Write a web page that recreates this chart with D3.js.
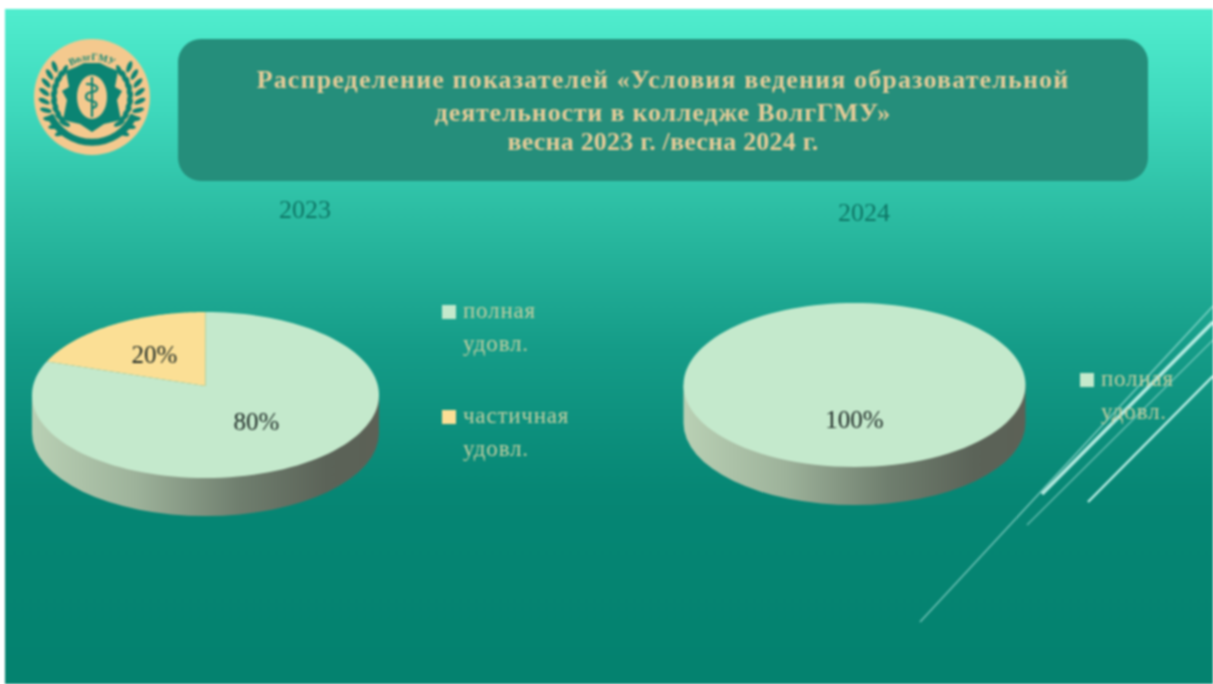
<!DOCTYPE html>
<html>
<head>
<meta charset="utf-8">
<script src="https://cdn.jsdelivr.net/npm/d3@7"></script>
<style>
  html, body { margin: 0; padding: 0; background: #fff; overflow: hidden; }
  svg { display: block; filter: blur(0.8px); }
  text { font-family: "Liberation Serif", serif; }
</style>
</head>
<body>
<div id="chart"></div>
<script>
// Data
const categories = ["полная удовл.", "частичная удовл."];
const values2023 = [80, 20];
const values2024 = [100];
const titleLines = [
    "Распределение показателей «Условия ведения образовательной",
    "деятельности в колледже ВолгГМУ»",
    "весна 2023 г. /весна 2024 г."
];

const width = 1213, height = 684;
const colors = d3.scaleOrdinal().domain(categories).range(["#C4E9CC", "#FBDF95"]);

const svg = d3.select("#chart").append("svg")
    .attr("width", width)
    .attr("height", height);

const defs = svg.append("defs");

// Slide background
const bg = defs.append("linearGradient").attr("id", "bg").attr("x2", 0).attr("y2", 1);
[[0, "#50EDCE"], [0.15, "#3ED8BC"], [0.3, "#2CBDA3"], [0.5, "#159C88"], [0.72, "#068674"], [1, "#04826F"]]
    .forEach(s => bg.append("stop").attr("offset", s[0]).attr("stop-color", s[1]));

// Side of the 3d pies
const side = defs.append("linearGradient").attr("id", "side");
[[0, "#B9D0B4"], [0.3, "#9DB29A"], [0.6, "#6F7E6E"], [0.85, "#5B6358"], [1, "#5C6156"]]
    .forEach(s => side.append("stop").attr("offset", s[0]).attr("stop-color", s[1]));

svg.append("rect")
    .attr("x", 5).attr("y", 9)
    .attr("width", width - 5).attr("height", height - 9)
    .attr("fill", "url(#bg)");

// Decorative diagonal lines
const decoLines = [
    { x1: 920, y1: 622, x2: 1213, y2: 306, w: 1.6, o: 0.55 },
    { x1: 1042, y1: 494, x2: 1213, y2: 322, w: 3.5, o: 0.9 },
    { x1: 1027, y1: 525, x2: 1213, y2: 340, w: 1.4, o: 0.5 },
    { x1: 1088, y1: 502, x2: 1213, y2: 376, w: 2.4, o: 0.95 }
];
svg.selectAll("line.deco")
    .data(decoLines)
    .enter()
    .append("line")
    .attr("class", "deco")
    .attr("x1", d => d.x1).attr("y1", d => d.y1)
    .attr("x2", d => d.x2).attr("y2", d => d.y2)
    .attr("stroke", "#C8F5EC")
    .attr("stroke-width", d => d.w)
    .attr("stroke-opacity", d => d.o);

// Title banner
svg.append("rect")
    .attr("x", 178).attr("y", 39)
    .attr("width", 970).attr("height", 142)
    .attr("rx", 23)
    .attr("fill", "#258E7B");

svg.selectAll("text.title")
    .data(titleLines)
    .enter()
    .append("text")
    .attr("class", "title")
    .attr("x", 663)
    .attr("y", (d, i) => [88, 121, 150][i])
    .style("text-anchor", "middle")
    .style("font-size", "26px")
    .style("letter-spacing", (d, i) => [1.15, 0.8, 0.2][i] + "px")
    .style("font-weight", "bold")
    .style("fill", "#E6CC98")
    .text(d => d);

// Logo
const logo = svg.append("g").attr("transform", "translate(92,97)");
const teal = "#0B8473";
logo.append("circle").attr("r", 58).attr("fill", "#F4C98E");
[-1, 1].forEach(function(sign) {
    [38, 48].forEach(function(r, row) {
        d3.range(9).forEach(function(i) {
            const deg = -44 + i * 11 + row * 5;
            const a = deg * Math.PI / 180;
            logo.append("ellipse")
                .attr("rx", 6).attr("ry", 2.4)
                .attr("transform", `translate(${sign * r * Math.cos(a)},${r * Math.sin(a)}) rotate(${sign * (deg - 70 + row * 40)})`)
                .attr("fill", teal);
        });
    });
});
logo.append("path")
    .attr("d", "M-42,18 A46,46 0 0 0 42,18")
    .attr("fill", "none")
    .attr("stroke", teal)
    .attr("stroke-width", 7);
logo.append("path")
    .attr("d", "M-26,-26 L-16,-30 L-8,-34 L8,-34 L16,-30 L26,-26 L23,-10 L30,-6 L25,3 L29,23 L12,27 L0,35 L-12,27 L-29,23 L-25,3 L-30,-6 L-23,-10 Z")
    .attr("fill", teal);
logo.append("ellipse").attr("rx", 15).attr("ry", 22).attr("fill", "#F4C98E");
logo.append("path")
    .attr("d", "M0,-20 L0,20 M-6,-13 C8,-13 8,-6 0,-5 C-8,-4 -8,3 0,4 C6,5 6,10 0,11")
    .attr("fill", "none")
    .attr("stroke", teal)
    .attr("stroke-width", 2.2);
logo.append("path").attr("id", "logoArc").attr("d", "M-30,-25 A44,44 0 0 1 30,-25").attr("fill", "none");
logo.append("text")
    .style("font-size", "10px")
    .style("font-weight", "bold")
    .style("fill", teal)
    .append("textPath")
    .attr("href", "#logoArc")
    .attr("startOffset", "50%")
    .style("text-anchor", "middle")
    .text("ВолгГМУ");

// One 3d pie with its year and legend
function drawPie(cfg) {
    const g = svg.append("g");
    const rows = cfg.values.map((v, i) => ({ name: categories[i], value: v }));
    const pie = d3.pie().value(d => d.value).sort(null);
    const labelArc = d3.arc().innerRadius(cfg.rx * 0.5).outerRadius(cfg.rx * 0.5);
    const squash = cfg.ry / cfg.rx;

    // the slide tilt moves the pie centre up from the centre of the ellipse
    const tilt = 9 / cfg.ry;
    const rim = function(a) {
        const u = Math.sin(a), v = -Math.cos(a), w = 1 - tilt * v;
        return [cfg.cx + cfg.rx * u * Math.sqrt(1 - tilt * tilt) / w,
                cfg.cy + cfg.ry * (v - tilt) / w];
    };
    const line = d3.line();
    const slicePath = function(d) {
        const steps = d3.range(0, 121).map(i => rim(d.startAngle + (d.endAngle - d.startAngle) * i / 120));
        return line([[cfg.cx, cfg.cy - tilt * cfg.ry]].concat(steps)) + "Z";
    };

    // side wall, front half of the ellipse pushed down
    g.append("path")
        .attr("d", `M${cfg.cx - cfg.rx},${cfg.cy} L${cfg.cx - cfg.rx},${cfg.cy + cfg.depth} ` +
            `A${cfg.rx},${cfg.ry} 0 0 0 ${cfg.cx + cfg.rx},${cfg.cy + cfg.depth} L${cfg.cx + cfg.rx},${cfg.cy} Z`)
        .attr("fill", "url(#side)");

    g.selectAll("path.slice")
        .data(pie(rows))
        .enter()
        .append("path")
        .attr("class", "slice")
        .attr("d", slicePath)
        .attr("fill", d => colors(d.data.name));

    g.selectAll("text.pct")
        .data(pie(rows))
        .enter()
        .append("text")
        .attr("class", "pct")
        .attr("x", d => cfg.cx + labelArc.centroid(d)[0])
        .attr("y", d => cfg.cy + labelArc.centroid(d)[1] * squash - 7)
        .attr("dy", "0.35em")
        .style("text-anchor", "middle")
        .style("font-size", "25px")
        .style("fill", "#1E2A26")
        .text(d => d.data.value + "%");

    g.append("text")
        .attr("x", cfg.yearX)
        .attr("y", cfg.yearY)
        .style("text-anchor", "middle")
        .style("font-size", "26px")
        .style("fill", "#0E7565")
        .text(cfg.year);

    // legend, two lines per entry
    const legend = g.selectAll("g.legend")
        .data(rows)
        .enter()
        .append("g")
        .attr("class", "legend")
        .attr("transform", (d, i) => `translate(${cfg.legendX},${cfg.legendY + i * 105})`);
    legend.append("rect")
        .attr("y", -13).attr("width", 14).attr("height", 14)
        .attr("fill", d => colors(d.name));
    legend.selectAll("text")
        .data(d => d.name.split(" "))
        .enter()
        .append("text")
        .attr("x", 21)
        .attr("y", (d, i) => i * 33)
        .style("font-size", "23px")
        .style("letter-spacing", "0.8px")
        .style("fill", "#C4CFA2")
        .text(d => d);
}

drawPie({ values: values2023, year: "2023", cx: 205.5, cy: 395, rx: 173.5, ry: 83, depth: 38,
    yearX: 305, yearY: 218, legendX: 442, legendY: 318 });
drawPie({ values: values2024, year: "2024", cx: 854.5, cy: 385, rx: 171, ry: 82, depth: 38,
    yearX: 864, yearY: 221, legendX: 1080, legendY: 386 });
</script>
</body>
</html>
